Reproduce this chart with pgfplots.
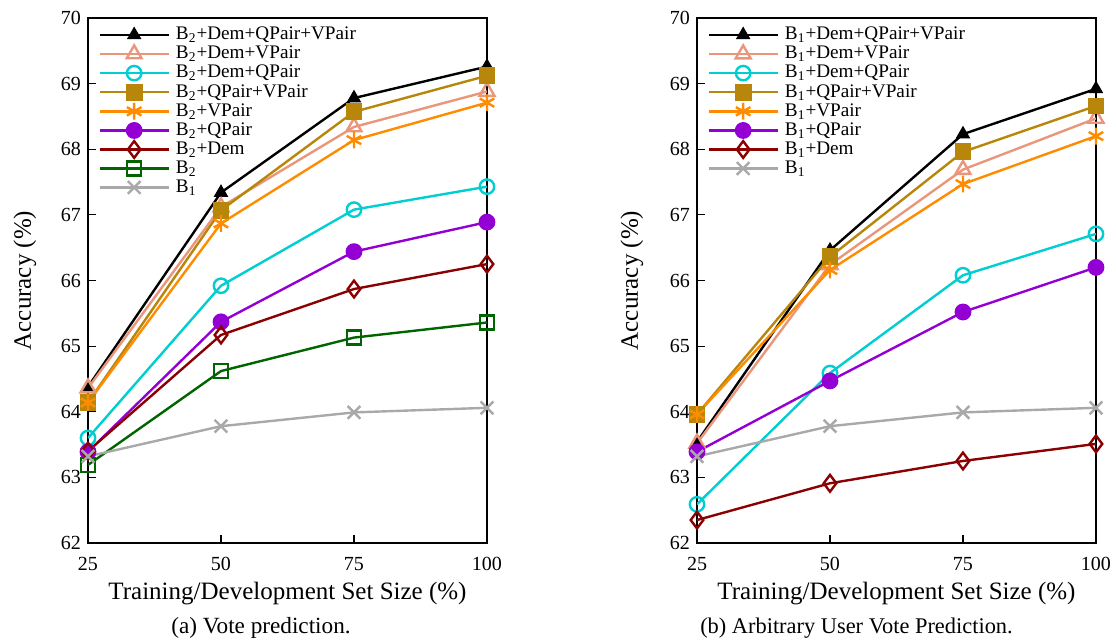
\documentclass[border=0pt]{standalone}
\usepackage{fontspec}
\setmainfont{Liberation Serif}
\usepackage{pgfplots}
\pgfplotsset{compat=1.18}
\definecolor{cblack}{HTML}{000000}
\definecolor{csalmon}{HTML}{E9967A}
\definecolor{ccyan}{HTML}{00CED1}
\definecolor{cgold}{HTML}{B8860B}
\definecolor{corange}{HTML}{FF8C00}
\definecolor{cpurple}{HTML}{9400D3}
\definecolor{cdred}{HTML}{8B0000}
\definecolor{cgreen}{HTML}{006400}
\definecolor{cgray}{HTML}{A9A9A9}
\pgfplotsset{
  myax/.style={
    scale only axis, width=199.5pt, height=262.5pt,
    xmin=25, xmax=100, ymin=62, ymax=70,
    xtick={25,50,75,100}, ytick={62,63,...,70},
    tick pos=left, tick align=inside,
    major tick length=4pt,
    axis line style={line width=0.6pt},
    every tick/.style={line width=0.6pt},
    /pgf/number format/assume math mode=true,
    ticklabel style={font=\fontsize{10}{10}\selectfont},
    xticklabel style={yshift=-3.5pt},
    label style={font=\fontsize{12.5}{12.5}\selectfont},
    xlabel={Training/Development Set Size (\%)},
    ylabel={Accuracy (\%)},
    xlabel style={at={(axis description cs:0.5,-0.0953)},anchor=center},
    legend cell align=left,
    legend style={draw=none, fill=none, at={(axis description cs:0.02,0.995)}, anchor=north west,
      font=\fontsize{9.6}{9.6}\selectfont, row sep=-2.3pt, inner sep=1pt,
      nodes={inner xsep=3pt}},
    legend image code/.code={\draw[mark repeat=2,mark phase=2] plot coordinates {(0pt,0pt) (17.3pt,0pt) (34.6pt,0pt)};},
    every axis plot/.append style={line width=1.2pt},
  },
  s1/.style={color=cblack, mark=triangle*, mark size=3.2pt, mark options={solid,line width=1pt}},
  s2/.style={color=csalmon, mark=triangle, mark size=4.3pt, mark options={solid,line width=1.2pt}},
  s3/.style={color=ccyan, mark=o, mark size=3.6pt, mark options={solid,line width=1.2pt}},
  s4/.style={color=cgold, mark=square*, mark size=3.6pt, mark options={solid}},
  s5/.style={color=corange, mark=asterisk, mark size=4.2pt, mark options={solid,line width=1.2pt}},
  s6/.style={color=cpurple, mark=*, mark size=3.6pt, mark options={solid}},
  s7/.style={color=cdred, mark=diamond, mark size=4.2pt, mark options={solid,line width=1.2pt}},
  s8/.style={color=cgreen, mark=square, mark size=3.5pt, mark options={solid,line width=1.2pt}},
  s9/.style={color=cgray, mark=x, mark size=4.5pt, mark options={solid,line width=1.2pt}},
}
\begin{document}
\begin{tikzpicture}
\useasboundingbox (-44pt,-48pt) rectangle (514pt,271.5pt);
\begin{axis}[myax, at={(0pt,0pt)}, anchor=south west, name=left,
  ylabel style={at={(axis description cs:-0.158,0.5)},anchor=center}]
\addplot[s1] coordinates {(25,64.38) (50,67.34) (75,68.78) (100,69.26)};
\addlegendentry{B\textsubscript{2}+Dem+QPair+VPair}
\addplot[s2] coordinates {(25,64.36) (50,67.12) (75,68.34) (100,68.88)};
\addlegendentry{B\textsubscript{2}+Dem+VPair}
\addplot[s3] coordinates {(25,63.60) (50,65.92) (75,67.08) (100,67.43)};
\addlegendentry{B\textsubscript{2}+Dem+QPair}
\addplot[s4] coordinates {(25,64.14) (50,67.07) (75,68.57) (100,69.12)};
\addlegendentry{B\textsubscript{2}+QPair+VPair}
\addplot[s5] coordinates {(25,64.14) (50,66.87) (75,68.14) (100,68.71)};
\addlegendentry{B\textsubscript{2}+VPair}
\addplot[s6] coordinates {(25,63.39) (50,65.37) (75,66.44) (100,66.89)};
\addlegendentry{B\textsubscript{2}+QPair}
\addplot[s7] coordinates {(25,63.40) (50,65.17) (75,65.87) (100,66.25)};
\addlegendentry{B\textsubscript{2}+Dem}
\addplot[s8] coordinates {(25,63.19) (50,64.62) (75,65.13) (100,65.36)};
\addlegendentry{B\textsubscript{2}}
\addplot[s9] coordinates {(25,63.32) (50,63.78) (75,63.99) (100,64.06)};
\addlegendentry{B\textsubscript{1}}
\end{axis}
\begin{axis}[myax, at={(304.5pt,0pt)}, anchor=south west, name=right,
  ylabel style={at={(axis description cs:-0.163,0.5)},anchor=center}]
\addplot[s1] coordinates {(25,63.54) (50,66.46) (75,68.23) (100,68.92)};
\addlegendentry{B\textsubscript{1}+Dem+QPair+VPair}
\addplot[s2] coordinates {(25,63.52) (50,66.24) (75,67.69) (100,68.47)};
\addlegendentry{B\textsubscript{1}+Dem+VPair}
\addplot[s3] coordinates {(25,62.59) (50,64.59) (75,66.08) (100,66.71)};
\addlegendentry{B\textsubscript{1}+Dem+QPair}
\addplot[s4] coordinates {(25,63.96) (50,66.36) (75,67.96) (100,68.66)};
\addlegendentry{B\textsubscript{1}+QPair+VPair}
\addplot[s5] coordinates {(25,63.96) (50,66.16) (75,67.47) (100,68.20)};
\addlegendentry{B\textsubscript{1}+VPair}
\addplot[s6] coordinates {(25,63.39) (50,64.47) (75,65.52) (100,66.20)};
\addlegendentry{B\textsubscript{1}+QPair}
\addplot[s7] coordinates {(25,62.35) (50,62.91) (75,63.25) (100,63.51)};
\addlegendentry{B\textsubscript{1}+Dem}
\addplot[s9] coordinates {(25,63.32) (50,63.78) (75,63.99) (100,64.06)};
\addlegendentry{B\textsubscript{1}}
\end{axis}
\node[font=\fontsize{11.6}{11.6}\selectfont] at ([xshift=-13.25pt,yshift=-42.5pt]left.south) {(a) Vote prediction.};
\node[font=\fontsize{11.2}{11.2}\selectfont] at ([xshift=-20pt,yshift=-42.5pt]right.south) {(b) Arbitrary User Vote Prediction.};
\end{tikzpicture}
\end{document}
